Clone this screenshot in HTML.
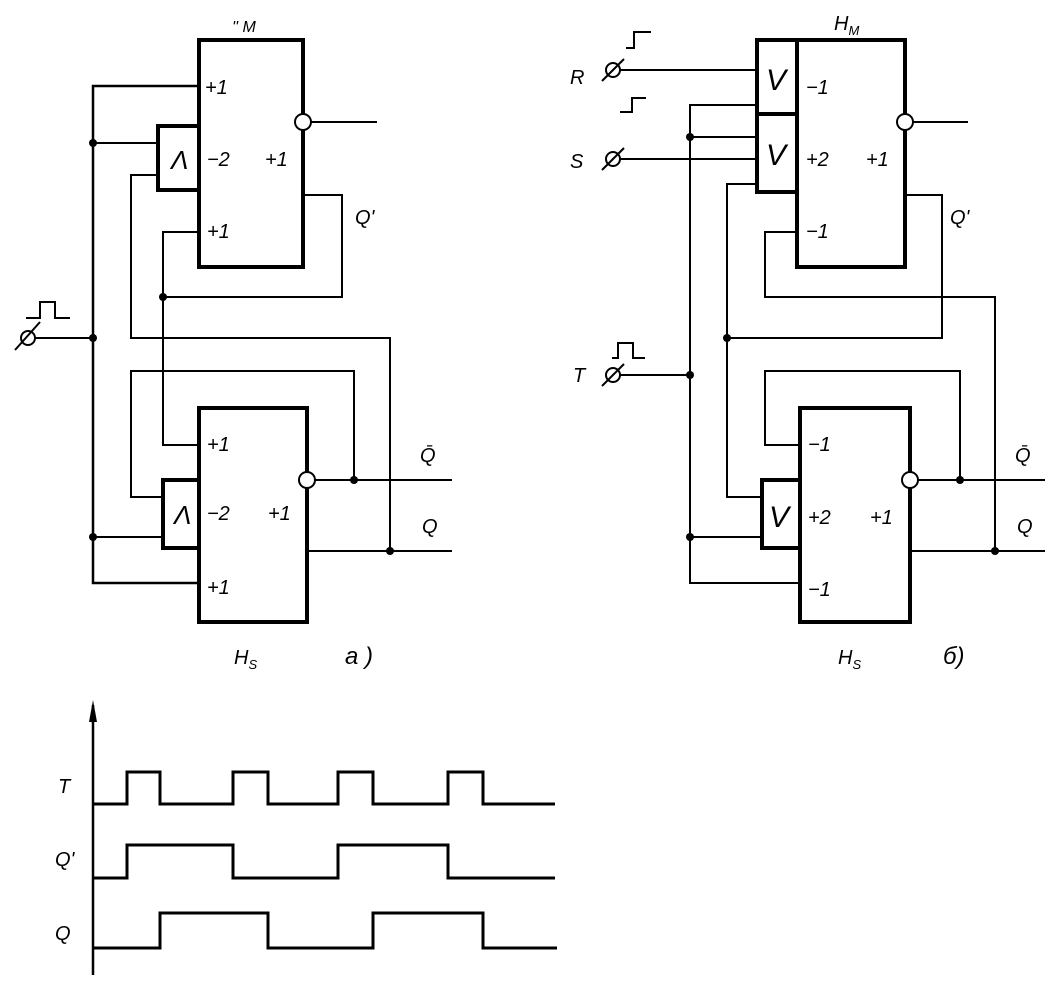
<!DOCTYPE html>
<html><head><meta charset="utf-8"><style>
html,body{margin:0;padding:0;background:#fff;}
svg{display:block;}
text{font-family:"Liberation Sans",sans-serif;font-style:italic;fill:#000;}
</style></head><body>
<svg width="1060" height="1000" viewBox="0 0 1060 1000" xmlns="http://www.w3.org/2000/svg">
<g fill="none" stroke="#000" stroke-width="2">
<!-- LEFT CIRCUIT -->
<rect x="199" y="40" width="104" height="227" stroke-width="4"/>
<rect x="158" y="126" width="41" height="64" stroke-width="4"/>
<rect x="199" y="408" width="108" height="214" stroke-width="4"/>
<rect x="163" y="480" width="36" height="68" stroke-width="4"/>
<polyline points="199,86 93,86 93,583 199,583" stroke-width="2.5"/>
<line x1="93" y1="143" x2="158" y2="143"/>
<line x1="36" y1="338" x2="93" y2="338"/>
<line x1="93" y1="537" x2="163" y2="537"/>
<polyline points="158,175 131,175 131,338 390,338 390,551"/>
<polyline points="199,232 163,232 163,445 199,445"/>
<polyline points="163,297 342,297 342,195 303,195"/>
<polyline points="163,497 131,497 131,371 354,371 354,480"/>
<line x1="311" y1="122" x2="377" y2="122"/>
<line x1="315" y1="480" x2="452" y2="480"/>
<line x1="307" y1="551" x2="452" y2="551"/>
<circle cx="303" cy="122" r="8" fill="#fff"/>
<circle cx="307" cy="480" r="8" fill="#fff"/>
<circle cx="28" cy="338" r="7"/>
<line x1="15" y1="350" x2="40" y2="322"/>
<polyline points="26,318 40,318 40,302 55,302 55,318 70,318"/>
<!-- RIGHT CIRCUIT -->
<rect x="797" y="40" width="108" height="227" stroke-width="4"/>
<rect x="757" y="40" width="40" height="152" stroke-width="4"/>
<line x1="757" y1="114" x2="797" y2="114" stroke-width="4"/>
<rect x="800" y="408" width="110" height="214" stroke-width="4"/>
<rect x="762" y="480" width="38" height="68" stroke-width="4"/>
<line x1="620" y1="70" x2="757" y2="70"/>
<line x1="620" y1="159" x2="757" y2="159"/>
<polyline points="757,105 690,105 690,583 800,583"/>
<line x1="690" y1="137" x2="757" y2="137"/>
<line x1="620" y1="375" x2="690" y2="375"/>
<line x1="690" y1="537" x2="762" y2="537"/>
<polyline points="757,184 727,184 727,497 762,497"/>
<polyline points="727,338 942,338 942,195 905,195"/>
<polyline points="797,232 765,232 765,297 995,297 995,551"/>
<polyline points="800,445 765,445 765,371 960,371 960,480"/>
<line x1="913" y1="122" x2="968" y2="122"/>
<line x1="918" y1="480" x2="1045" y2="480"/>
<line x1="910" y1="551" x2="1045" y2="551"/>
<circle cx="905" cy="122" r="8" fill="#fff"/>
<circle cx="910" cy="480" r="8" fill="#fff"/>
<circle cx="613" cy="70" r="7"/><line x1="602" y1="81" x2="624" y2="59"/>
<circle cx="613" cy="159" r="7"/><line x1="602" y1="170" x2="624" y2="148"/>
<circle cx="613" cy="375" r="7"/><line x1="602" y1="386" x2="624" y2="364"/>
<polyline points="626,48 634,48 634,32 651,32"/>
<polyline points="620,112 632,112 632,98 646,98"/>
<polyline points="612,358 618,358 618,343 633,343 633,358 645,358"/>
<!-- TIMING -->
<line x1="93" y1="705" x2="93" y2="975" stroke-width="2.5"/>
<polyline points="93,804 127,804 127,772 160,772 160,804 233,804 233,772 268,772 268,804 338,804 338,772 373,772 373,804 448,804 448,772 483,772 483,804 555,804" stroke-width="3"/>
<polyline points="93,878 127,878 127,845 233,845 233,878 338,878 338,845 448,845 448,878 555,878" stroke-width="3"/>
<polyline points="93,948 160,948 160,913 268,913 268,948 373,948 373,913 483,913 483,948 557,948" stroke-width="3"/>
</g>
<polygon points="93,700 89,722 97,722" fill="#000"/>
<g fill="#000">
<circle cx="93" cy="143" r="4"/><circle cx="93" cy="338" r="4"/><circle cx="93" cy="537" r="4"/>
<circle cx="163" cy="297" r="4"/><circle cx="354" cy="480" r="4"/><circle cx="390" cy="551" r="4"/>
<circle cx="690" cy="137" r="4"/><circle cx="690" cy="375" r="4"/><circle cx="690" cy="537" r="4"/>
<circle cx="727" cy="338" r="4"/><circle cx="960" cy="480" r="4"/><circle cx="995" cy="551" r="4"/>
</g>
<g font-size="20">
<text x="232" y="32" font-size="16">'' M</text>
<text x="205" y="94">+1</text><text x="207" y="166">−2</text><text x="265" y="166">+1</text><text x="207" y="238">+1</text>
<text x="355" y="224">Q'</text>
<text x="171" y="169" font-style="normal" font-size="26">Λ</text>
<text x="207" y="451">+1</text><text x="207" y="520">−2</text><text x="268" y="520">+1</text><text x="207" y="594">+1</text>
<text x="174" y="524" font-style="normal" font-size="26">Λ</text>
<text x="234" y="664">H<tspan font-size="13" dy="5">S</tspan></text>
<text x="345" y="664" font-size="24">a )</text>
<text x="420" y="462">Q̄</text><text x="422" y="533">Q</text>
<text x="570" y="84">R</text><text x="570" y="168">S</text><text x="573" y="382">T</text>
<text x="834" y="30">H<tspan font-size="13" dy="5">M</tspan></text>
<text x="766" y="90" font-style="normal" font-size="30">V</text>
<text x="766" y="165" font-style="normal" font-size="30">V</text>
<text x="806" y="94">−1</text><text x="806" y="166">+2</text><text x="866" y="166">+1</text><text x="806" y="238">−1</text>
<text x="950" y="224">Q'</text>
<text x="769" y="527" font-style="normal" font-size="30">V</text>
<text x="808" y="451">−1</text><text x="808" y="524">+2</text><text x="870" y="524">+1</text><text x="808" y="596">−1</text>
<text x="838" y="664">H<tspan font-size="13" dy="5">S</tspan></text>
<text x="943" y="664" font-size="24">б)</text>
<text x="1015" y="462">Q̄</text><text x="1017" y="533">Q</text>
<text x="58" y="793">T</text><text x="55" y="866">Q'</text><text x="55" y="940">Q</text>
</g>
</svg>
</body></html>
